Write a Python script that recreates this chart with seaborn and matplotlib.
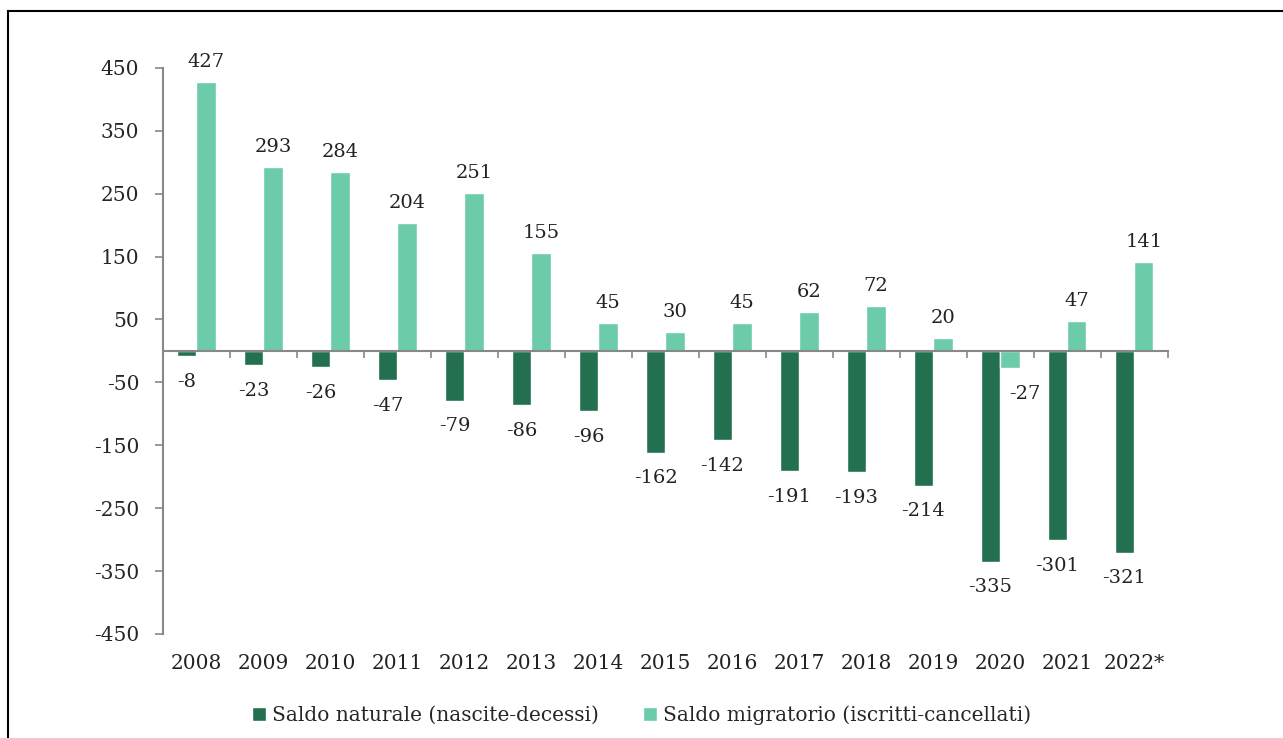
import numpy as np
import pandas as pd
import matplotlib.pyplot as plt
import seaborn as sns
from matplotlib.patches import Rectangle

# Data (thousands)
anni = ['2008', '2009', '2010', '2011', '2012', '2013', '2014', '2015',
        '2016', '2017', '2018', '2019', '2020', '2021', '2022*']
saldo_naturale = [-8, -23, -26, -47, -79, -86, -96, -162, -142, -191, -193, -214, -335, -301, -321]
saldo_migratorio = [427, 293, 284, 204, 251, 155, 45, 30, 45, 62, 72, 20, -27, 47, 141]
serie = ['Saldo naturale (nascite-decessi)', 'Saldo migratorio (iscritti-cancellati)']
colori = ['#22704F', '#6CCBA9']

df = pd.DataFrame({
    'anno': anni * 2,
    'valore': saldo_naturale + saldo_migratorio,
    'serie': [serie[0]] * len(anni) + [serie[1]] * len(anni),
})

sns.set_style('white')
plt.rcParams['font.family'] = ['DejaVu Serif']
plt.rcParams['axes.unicode_minus'] = False

fig = plt.figure(figsize=(12.83, 7.38), dpi=100)
ax = fig.add_axes([0.127, 0.141, 0.783, 0.767])

sns.barplot(data=df, x='anno', y='valore', hue='serie', order=anni,
            hue_order=serie, palette=colori, width=0.58, dodge=True,
            saturation=1, ax=ax, legend=True, errorbar=None)

# value labels above/below each bar
for k, cont in enumerate(ax.containers):
    for bar in cont:
        h = bar.get_height()
        x = bar.get_x() + bar.get_width() / 2
        if h >= 0:
            ax.annotate(f'{h:.0f}', (x, h), xytext=(0, 8), textcoords='offset points',
                        ha='center', va='bottom', fontsize=14, color='#222222')
        else:
            dx = 11 if k == 1 else 0
            ax.annotate(f'{h:.0f}', (x, h), xytext=(dx, -12), textcoords='offset points',
                        ha='center', va='top', fontsize=14, color='#222222')

ax.set_ylim(-450, 450)
ax.set_xlim(-0.5, len(anni) - 0.5)
ax.set_yticks(np.arange(-450, 451, 100))
ax.tick_params(axis='y', length=6, width=1.2, color='#888888', pad=11, labelsize=14.5,
               left=True, direction='out')

# x axis line crossing at zero, ticks at category boundaries
ax.spines['bottom'].set_position(('data', 0))
ax.spines['bottom'].set_color('#888888')
ax.spines['bottom'].set_linewidth(1.5)
ax.spines['left'].set_color('#888888')
ax.spines['left'].set_linewidth(1.5)
ax.spines['top'].set_visible(False)
ax.spines['right'].set_visible(False)
ax.set_xticks(np.arange(-0.5, len(anni), 1))
ax.set_xticklabels([])
ax.tick_params(axis='x', length=5, width=1.2, color='#888888', bottom=True, direction='out')

for i, a in enumerate(anni):
    ax.text(i, -0.052, a, transform=ax.get_xaxis_transform(), ha='center', va='center',
            fontsize=14.5, color='#222222')

ax.set_xlabel('')
ax.set_ylabel('')

handles, labels = ax.get_legend_handles_labels()
ax.legend(handles, labels, loc='center', bbox_to_anchor=(0.5, 0.031),
          bbox_transform=fig.transFigure, ncol=2,
          frameon=False, fontsize=14.5, handlelength=0.7, handleheight=0.7,
          handletextpad=0.3, columnspacing=2.2)

# outer frame (partly cut at right and bottom)
fig.patches.append(Rectangle((0.0062, -0.1), 1.2, 0.985 + 0.1, transform=fig.transFigure,
                             fill=False, edgecolor='black', linewidth=1.5))

fig.savefig('out.png', dpi=100)
